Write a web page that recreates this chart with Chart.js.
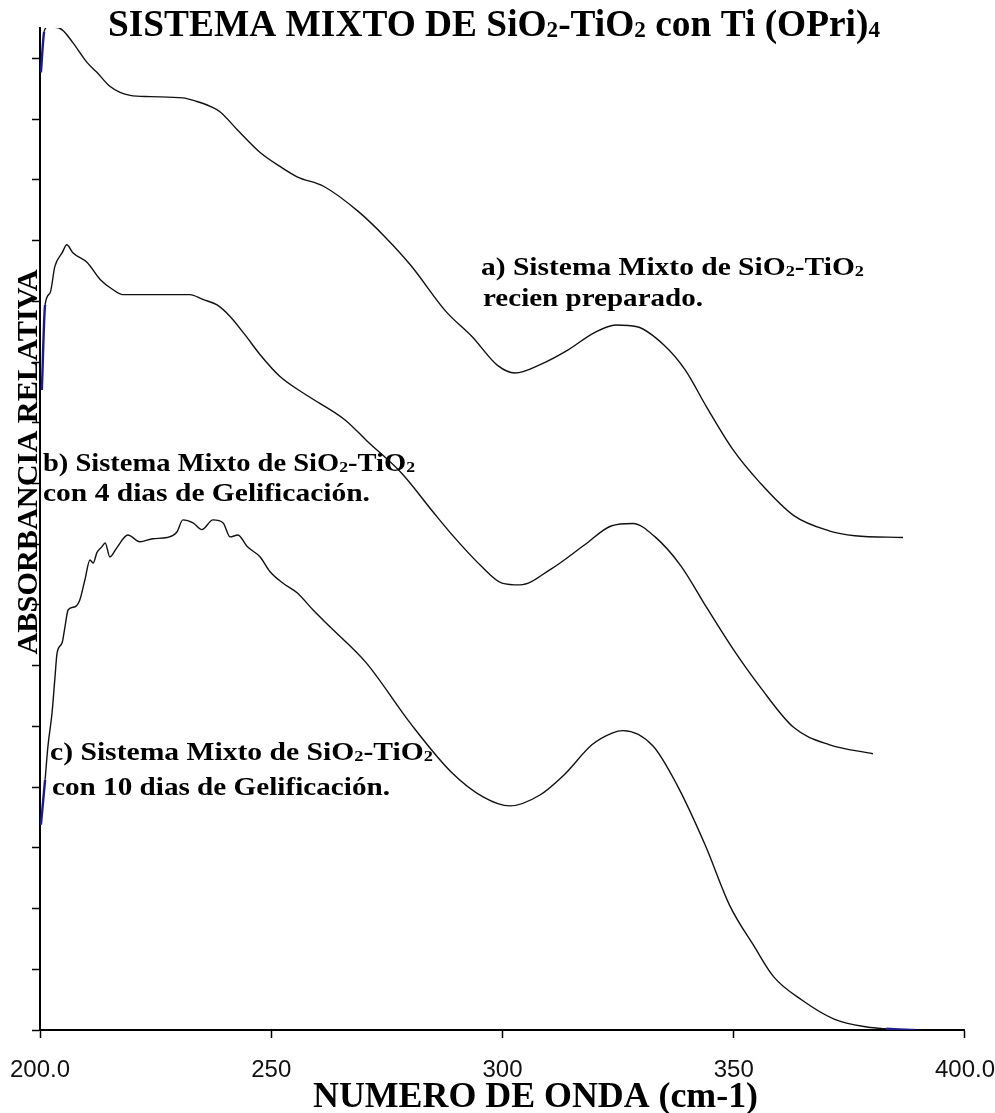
<!DOCTYPE html>
<html>
<head>
<meta charset="utf-8">
<script src="https://cdn.jsdelivr.net/npm/chart.js@4.4.0/dist/chart.umd.min.js"></script>
<style>
  html, body { margin: 0; padding: 0; background: #fff; }
  #wrap { width: 995px; height: 1113px; }
</style>
</head>
<body>
<div id="wrap"><canvas id="myChart" width="995" height="1113"></canvas></div>
<script>
// curve a) recien preparado
var waveA = [200.2, 200.9, 201.5, 203.2, 204.8, 207.1, 210.2, 212.3, 215.1, 217.3, 219.5, 223.8, 230.9, 233.9,
  236.8, 238.9, 242.6, 247.6, 251.9, 255.6, 261.4, 268.8, 274.6, 280.2, 287.8, 293.4, 299.0, 302.7, 308.5,
  314.2, 319.8, 324.5, 329.1, 334.9, 339.5, 344.2, 349.8, 355.7, 363.0, 370.6, 376.2, 386.6];
var absA = [15.77, 16.44, 16.51, 16.51, 16.47, 16.26, 15.93, 15.77, 15.54, 15.44, 15.39, 15.37, 15.35, 15.29,
  15.21, 15.12, 14.83, 14.45, 14.22, 14.05, 13.89, 13.48, 13.06, 12.59, 11.83, 11.42, 10.94, 10.82, 10.97,
  11.20, 11.48, 11.61, 11.58, 11.28, 10.87, 10.25, 9.56, 9.01, 8.47, 8.22, 8.14, 8.11];

// curve b) 4 dias de gelificacion
var waveB = [200.4, 201.1, 202.2, 203.2, 204.8, 205.8, 207.1, 210.2, 213.0, 215.8, 217.9, 223.8, 232.4, 235.2,
  238.3, 241.1, 244.3, 247.6, 251.9, 257.5, 265.9, 270.7, 278.3, 285.0, 289.5, 295.4, 299.9, 303.8, 310.3,
  317.8, 323.5, 328.2, 333.0, 338.6, 344.2, 349.8, 355.7, 363.0, 370.6, 380.1];
var absB = [10.54, 11.94, 12.14, 12.57, 12.80, 12.93, 12.80, 12.64, 12.36, 12.19, 12.11, 12.11, 12.11, 12.03,
  11.94, 11.75, 11.45, 11.12, 10.76, 10.46, 10.05, 9.70, 9.16, 8.53, 8.12, 7.64, 7.36, 7.33, 7.58,
  7.99, 8.30, 8.34, 8.12, 7.64, 6.95, 6.28, 5.65, 4.98, 4.70, 4.55];

// curve c) 10 dias de gelificacion
var waveC = [200.2, 201.1, 201.7, 202.6, 203.2, 203.7, 204.8, 205.4, 206.1, 207.6, 208.6, 209.7, 210.8, 211.5,
  212.3, 213.4, 214.1, 215.1, 216.6, 219.0, 221.6, 224.4, 227.5, 229.6, 230.9, 233.1, 235.0, 237.4, 239.6,
  241.1, 242.8, 244.8, 247.6, 249.7, 252.5, 255.6, 259.0, 262.7, 270.5, 280.2, 288.9, 295.8, 301.6, 308.1,
  313.3, 319.4, 323.7, 326.1, 332.5, 337.7, 343.8, 349.2, 354.4, 358.7, 364.8, 371.7, 378.8, 383.0, 389.2];
var absC = [3.38, 4.12, 4.66, 5.22, 5.77, 6.21, 6.38, 6.64, 6.92, 6.97, 7.08, 7.41, 7.74, 7.69,
  7.86, 7.96, 8.02, 7.79, 7.94, 8.15, 8.04, 8.09, 8.11, 8.20, 8.40, 8.35, 8.24, 8.40, 8.35,
  8.12, 8.15, 7.96, 7.79, 7.55, 7.36, 7.20, 6.92, 6.64, 6.05, 5.04, 4.25, 3.84, 3.69, 3.87,
  4.20, 4.70, 4.89, 4.93, 4.68, 4.04, 3.05, 2.04, 1.38, 0.87, 0.49, 0.18, 0.05, 0.02, 0.00];

var xTicks = [200, 250, 300, 350, 400];
var xTickText = ["200.0", "250", "300", "350", "400.0"];

// text pieces: [text, subscript?]
var titleParts = [["SISTEMA MIXTO DE SiO", 0], ["2", 1], ["-TiO", 0], ["2", 1], [" con Ti (OPri)", 0], ["4", 1]];
var xTitle = [["NUMERO DE ONDA (cm-1)", 0]];
var yTitle = [["ABSORBANCIA RELATIVA", 0]];
var sio2 = [["Sistema Mixto de SiO", 0], ["2", 1], ["-TiO", 0], ["2", 1]];
var labelA = [[["a) ", 0]].concat(sio2), [["recien preparado.", 0]]];
var labelB = [[["b) ", 0]].concat(sio2), [["con 4 dias de Gelificación.", 0]]];
var labelC = [[["c) ", 0]].concat(sio2), [["con 10 dias de Gelificación.", 0]]];

function pts(xs, ys) {
  return xs.map((x, i) => ({ x: x, y: ys[i] }));
}

const SERIF = '"Liberation Serif", "Times New Roman", serif';
const BLUE = "#1c1c8c";

// draws bold text with small subscripts, squeezed to a width if given
function drawRich(ctx, parts, x, y, size, width, align) {
  ctx.save();
  let natural = 0;
  parts.forEach(p => {
    ctx.font = "bold " + (p[1] ? size * 0.62 : size) + "px " + SERIF;
    natural += ctx.measureText(p[0]).width;
  });
  const k = width ? width / natural : 1;
  ctx.translate(x, y);
  ctx.scale(k, 1);
  let cx = align === "center" ? -natural / 2 : 0;
  ctx.fillStyle = "#000";
  ctx.textBaseline = "alphabetic";
  ctx.textAlign = "left";
  parts.forEach(p => {
    ctx.font = "bold " + (p[1] ? size * 0.62 : size) + "px " + SERIF;
    ctx.fillText(p[0], cx, p[1] ? 1 : 0);
    cx += ctx.measureText(p[0]).width;
  });
  ctx.restore();
}

const textPlugin = {
  id: "texts",
  afterDraw(chart) {
    const ctx = chart.ctx;
    drawRich(ctx, titleParts, 108, 36, 37, 772);
    drawRich(ctx, xTitle, 313, 1107, 36, 445);
    ctx.save();
    ctx.translate(37, 462);
    ctx.rotate(-Math.PI / 2);
    drawRich(ctx, yTitle, 0, 0, 30, 385, "center");
    ctx.restore();
    drawRich(ctx, labelA[0], 481, 275, 25, 383);
    drawRich(ctx, labelA[1], 483, 306, 25, 220);
    drawRich(ctx, labelB[0], 43, 471, 25, 372);
    drawRich(ctx, labelB[1], 43, 501, 25, 327);
    drawRich(ctx, labelC[0], 50, 760, 25, 383);
    drawRich(ctx, labelC[1], 52, 795, 25, 338);
  }
};

// the spectrometer trace starts (and for c ends) with a blue stretch
function curve(xs, ys, blueEnd) {
  const last = xs.length - 2;
  const isBlue = c => c.p0DataIndex === 0 || (blueEnd && c.p0DataIndex === last);
  return {
    data: pts(xs, ys),
    borderColor: "#111",
    borderWidth: 1.4,
    pointRadius: 0,
    fill: false,
    cubicInterpolationMode: "monotone",
    segment: {
      borderColor: c => (isBlue(c) ? BLUE : undefined),
      borderWidth: c => (isBlue(c) ? 2.4 : undefined)
    }
  };
}

const ctx = document.getElementById("myChart").getContext("2d");

const myChart = new Chart(ctx, {
  type: "line",
  data: {
    datasets: [curve(waveA, absA), curve(waveB, absB), curve(waveC, absC, true)]
  },
  options: {
    responsive: false,
    animation: false,
    layout: { padding: { left: 32, right: 30, top: 28, bottom: 0 } },
    plugins: { legend: { display: false }, tooltip: { enabled: false } },
    scales: {
      x: {
        type: "linear",
        min: 200,
        max: 400,
        afterBuildTicks: s => { s.ticks = xTicks.map(v => ({ value: v })); },
        afterFit: s => { s.height = 83; },
        ticks: {
          padding: 0,
          color: "#111",
          font: { family: '"Liberation Sans", Arial, sans-serif', size: 24, lineHeight: 2.7 },
          callback: (v) => xTickText[xTicks.indexOf(v)]
        },
        grid: { drawOnChartArea: false, tickLength: 8, tickColor: "#000", tickWidth: 1.5 },
        border: { display: true, color: "#000", width: 2 }
      },
      y: {
        type: "linear",
        min: 0,
        max: 16.5,
        afterFit: s => { s.width = 8; },
        ticks: { display: false, stepSize: 1, includeBounds: false },
        grid: { drawOnChartArea: false, tickLength: 8, tickColor: "#000", tickWidth: 1.5 },
        border: { display: true, color: "#000", width: 2 }
      }
    }
  },
  plugins: [textPlugin]
});
</script>
</body>
</html>
